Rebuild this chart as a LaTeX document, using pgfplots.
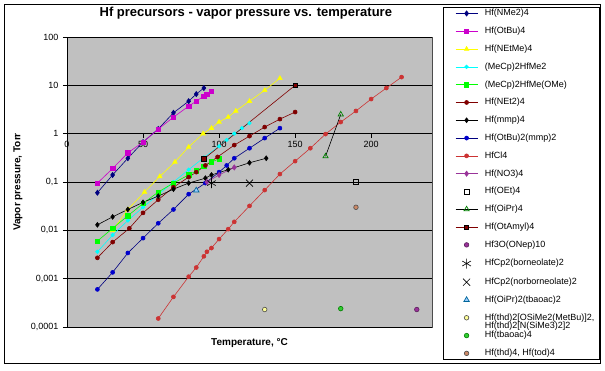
\documentclass[border=0pt]{standalone}
\usepackage{fontspec}
\setmainfont{Liberation Sans}
\usepackage{pgfplots}
\pgfplotsset{compat=1.18}
\definecolor{bggray}{RGB}{192,192,192}
\definecolor{cNMe}{RGB}{0,0,128}
\definecolor{cOtBu}{RGB}{204,0,204}
\definecolor{cYel}{RGB}{255,255,0}
\definecolor{cCyan}{RGB}{0,255,255}
\definecolor{cGreen}{RGB}{0,255,0}
\definecolor{cMaroon}{RGB}{128,0,0}
\definecolor{cBlue}{RGB}{0,0,204}
\definecolor{cRed}{RGB}{204,51,51}
\definecolor{cPurple}{RGB}{153,51,153}
\definecolor{cDkGreen}{RGB}{0,128,0}
\definecolor{cTeal}{RGB}{0,102,153}
\definecolor{cLtBlue}{RGB}{153,204,255}
\definecolor{cLtYel}{RGB}{255,255,153}
\definecolor{cTbaoac}{RGB}{51,204,51}
\definecolor{cThd}{RGB}{204,136,102}
\begin{document}
\begin{tikzpicture}
\useasboundingbox (0pt,0pt) rectangle (605pt,370pt);
\fill[white] (0pt,0pt) rectangle (605pt,370pt);
\draw[black, line width=0.8pt] (4pt,7pt) rectangle (600pt,366pt);
\begin{axis}[
  at={(67pt,43pt)}, anchor=south west,
  scale only axis, width=365pt, height=290pt,
  xmin=0, xmax=240, ymode=log, ymin=1e-4, ymax=100,
  axis x line*=middle, axis y line*=left,
  x axis line style={-, black, line width=0.7pt},
  y axis line style={-, black, line width=0.7pt},
  hide obscured x ticks=false,
  axis background/.style={fill=bggray, draw=gray!60!black},
  xtick={0,50,100,150,200}, xticklabels={0,50,100,150,200},
  ytick={1e-4,1e-3,1e-2,1e-1,1,10,100},
  yticklabels={{0,0001},{0,001},{0,01},{0,1},1,10,100},
  yminorticks=false, xminorticks=false,
  tick align=outside, major tick length=4pt,
  tick style={black, line width=0.6pt},
  ymajorgrids, major grid style={black, line width=0.8pt},
  ticklabel style={font=\fontsize{9}{10}\selectfont},
  yticklabel style={xshift=-1pt},
  title={Hf precursors - vapor pressure vs. temperature},
  title style={at={(axis description cs:0.49,1.062)}, anchor=center, font=\bfseries\fontsize{13}{15}\selectfont},
  xlabel={Temperature, °C},
  xlabel style={at={(axis description cs:0.5,-0.055)}, anchor=center, font=\bfseries\fontsize{10}{12}\selectfont},
  ylabel={Vapor pressure, Torr},
  ylabel style={at={(axis description cs:-0.134,0.5)}, anchor=center, rotate=0, font=\bfseries\fontsize{10}{12}\selectfont},
  legend image code/.code={\path (-7pt,0pt) (25pt,0pt); \draw[mark repeat=2,mark phase=2,#1] plot coordinates {(0pt,0pt) (11pt,0pt) (22pt,0pt)};},
  legend cell align=left,
  legend style={at={(axis description cs:1.0301,1.1034)}, anchor=north west,
    draw=black, fill=white, line width=0.6pt,
    font=\fontsize{9}{10}\selectfont,
    inner xsep=5pt, inner ysep=2pt, row sep=9.5pt, column sep=4pt,
    nodes={inner sep=0pt, text height=6.5pt, text depth=1.8pt, anchor=west}},
  every axis plot/.append style={line width=0.6pt},
]
\addplot[color=cNMe, mark=diamond*, mark size=2.6pt, mark options={fill=cNMe, draw=cNMe}] coordinates {
(20,0.06) (30,0.14) (40,0.31) (50,0.67) (60,1.25) (70,2.7) (80,4.7) (85,6.6) (90,8.8)};
\addlegendentry{Hf(NMe2)4}
\addplot[color=cOtBu, mark=square*, mark size=2.2pt, mark options={fill=cOtBu, draw=cOtBu}] coordinates {
(20,0.095) (30,0.19) (40,0.40) (50,0.67) (60,1.24) (70,2.2) (80,3.7) (85,4.7) (90,6.0) (92,6.6) (95,7.6)};
\addlegendentry{Hf(OtBu)4}
\addplot[color=cYel, mark=triangle*, mark size=2.6pt, mark options={fill=cYel, draw=cYel}] coordinates {
(30,0.01) (40,0.027) (51,0.062) (61,0.13) (71,0.26) (80,0.53) (89.5,1.0) (95,1.3) (100,1.75) (106,2.2) (111,2.95) (120,4.7) (130,7.9) (140,14)};
\addlegendentry{Hf(NEtMe)4}
\addplot[color=cCyan, mark=*, mark size=1.8pt, mark options={fill=cCyan, draw=cCyan}] coordinates {
(20,0.0036) (30,0.008) (40,0.016) (50,0.03) (60,0.055) (70,0.1) (80,0.18) (90,0.32) (100,0.55) (105,0.74) (110,1.0) (115,1.3) (120,1.65)};
\addlegendentry{(MeCp)2HfMe2}
\addplot[color=cGreen, mark=square*, mark size=2.2pt, mark options={fill=cGreen, draw=cGreen}] coordinates {
(20,0.006) (30,0.011) (40,0.02) (50,0.036) (60,0.062) (70,0.095) (80,0.14) (85,0.17) (90,0.21) (95,0.26) (100,0.3)};
\addlegendentry{(MeCp)2HfMe(OMe)}
\addplot[color=cMaroon, mark=*, mark size=2pt, mark options={fill=cMaroon, draw=cMaroon}] coordinates {
(20,0.0027) (30,0.0057) (41,0.011) (50,0.023) (60,0.043) (70,0.078) (80,0.126) (85,0.16) (91,0.22) (99,0.33) (110,0.58) (120,0.89) (130,1.37) (140,2.0) (150,2.8)};
\addlegendentry{Hf(NEt2)4}
\addplot[color=black, mark=diamond*, mark size=2.4pt, mark options={fill=black, draw=black}] coordinates {
(20,0.013) (30,0.019) (40,0.027) (50,0.038) (60,0.051) (70,0.071) (80,0.095) (91,0.12) (95,0.14) (106,0.18) (120,0.25) (131,0.31)};
\addlegendentry{Hf(mmp)4}
\addplot[color=cNMe, mark=*, mark size=2pt, mark options={fill=cBlue, draw=cBlue}] coordinates {
(20,0.0006) (30,0.00135) (40,0.0034) (50,0.0069) (60,0.014) (70,0.027) (80,0.056) (91,0.095) (100,0.16) (105,0.22) (110,0.31) (120,0.5) (130,0.81) (140,1.3)};
\addlegendentry{Hf(OtBu)2(mmp)2}
\addplot[color=cRed, mark=*, mark size=2pt, mark options={fill=cRed, draw=cRed}] coordinates {
(60,0.00015) (70,0.00042) (80,0.0011) (85,0.0017) (90,0.0029) (92,0.0036) (95,0.0043) (100,0.0066) (106,0.0106) (110,0.015) (120,0.032) (130,0.068) (140,0.146) (150,0.27) (160,0.5) (170,0.98) (180,1.74) (190,2.95) (200,5.2) (210,8.8) (220,14.8)};
\addlegendentry{HfCl4}
\addplot[color=cPurple, mark=diamond*, mark size=2.6pt, mark options={fill=cPurple, draw=cPurple}] coordinates {
(92,0.1) (100,0.14) (110,0.2)};
\addlegendentry{Hf(NO3)4}
\addplot[only marks, mark=square, mark size=2.4pt, mark options={draw=black, fill=none, line width=0.7pt}] coordinates {
(190,0.1)};
\addlegendentry{Hf(OEt)4}
\addplot[color=black, mark=triangle, mark size=3pt, mark options={draw=cDkGreen, fill=none, line width=0.7pt}] coordinates {
(170,0.34) (180,2.5)};
\addlegendentry{Hf(OiPr)4}
\addplot[color=cMaroon, mark=square*, mark size=2.2pt, mark options={fill=cMaroon, draw=black}] coordinates {
(90,0.3) (150,10)};
\addlegendentry{Hf(OtAmyl)4}
\addplot[only marks, mark=*, mark size=2.3pt, mark options={fill=cPurple, draw=cPurple!60!black}] coordinates {
(230,0.00023)};
\addlegendentry{Hf3O(ONep)10}
\addplot[only marks, mark=asterisk, mark size=5pt, mark options={draw=black, line width=0.6pt}] coordinates {
(95,0.095)};
\addlegendentry{HfCp2(borneolate)2}
\addplot[only marks, mark=x, mark size=5pt, mark options={draw=black, line width=0.6pt}] coordinates {
(120,0.095)};
\addlegendentry{HfCp2(norborneolate)2}
\addplot[only marks, mark=triangle*, mark size=3.2pt, mark options={fill=cLtBlue, draw=cTeal, line width=0.7pt}] coordinates {
(85,0.067)};
\addlegendentry{Hf(OiPr)2(tbaoac)2}
\addplot[only marks, mark=*, mark size=2.3pt, mark options={fill=cLtYel, draw=black!70}] coordinates {
(130,0.00023)};
\addlegendentry{\rlap{\raisebox{-8.5pt}[0pt][0pt]{Hf(thd)2[N(SiMe3)2]2}}Hf(thd)2[OSiMe2(MetBu)]2,}
\addplot[only marks, mark=*, mark size=2.3pt, mark options={fill=cTbaoac, draw=cDkGreen}] coordinates {
(180,0.00024)};
\addlegendentry{Hf(tbaoac)4}
\addplot[only marks, mark=*, mark size=2.3pt, mark options={fill=cThd, draw=black!70}] coordinates {
(190,0.03)};
\addlegendentry{Hf(thd)4, Hf(tod)4}
\end{axis}
\end{tikzpicture}
\end{document}
